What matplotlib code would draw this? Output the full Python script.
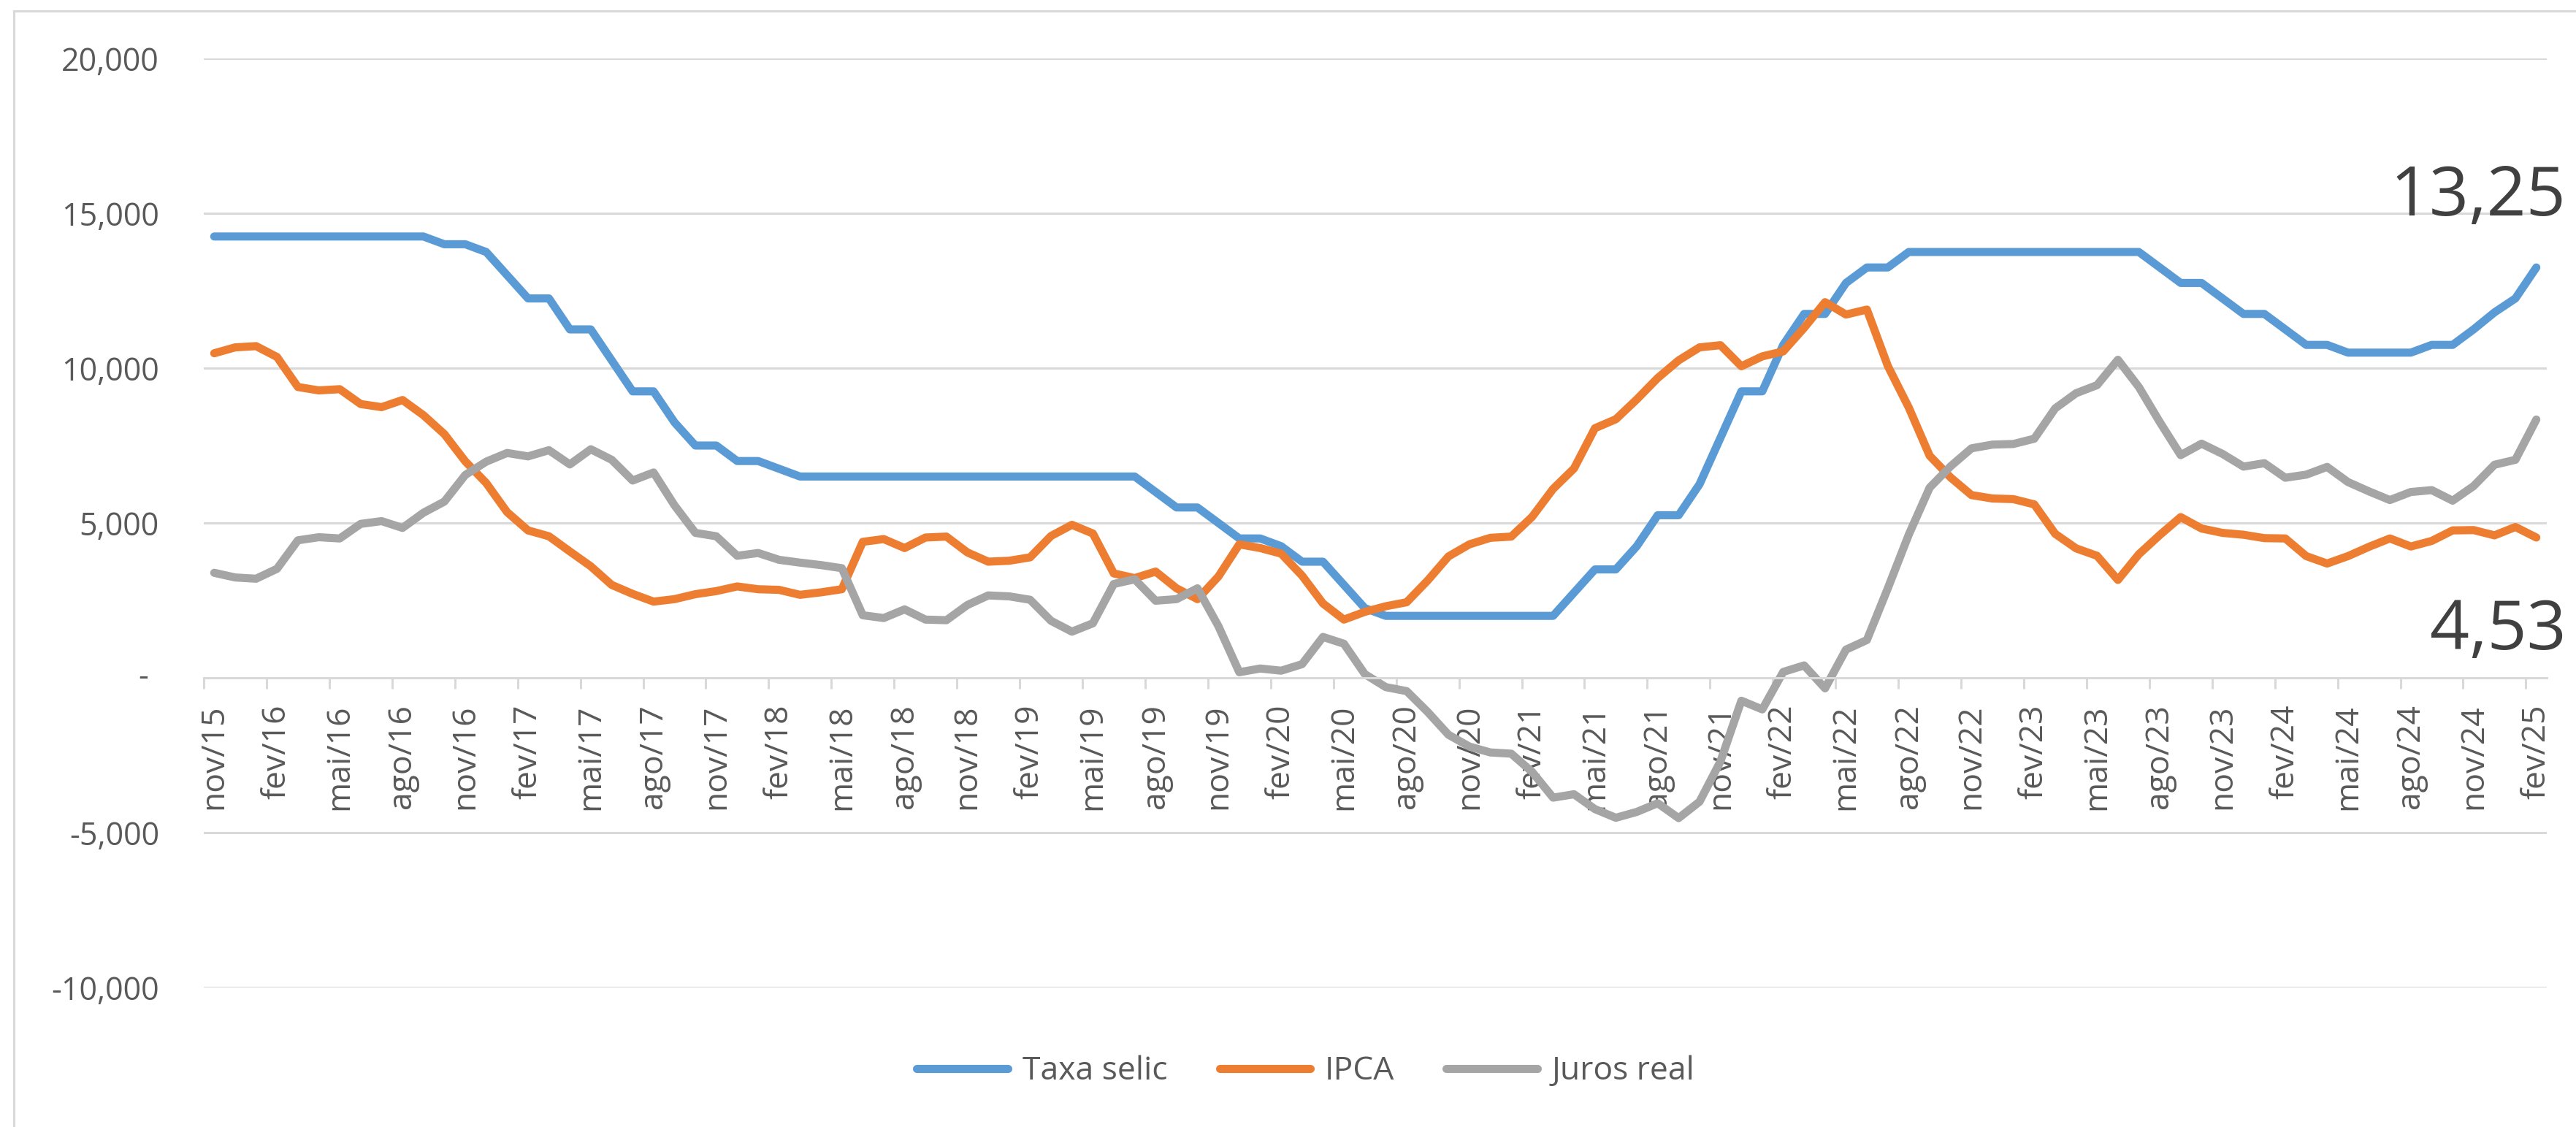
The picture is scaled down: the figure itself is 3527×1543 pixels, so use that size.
import matplotlib
matplotlib.use("Agg")
import matplotlib.pyplot as plt
from matplotlib.patches import Rectangle
import numpy as np

plt.rcParams['font.family'] = ['Open Sans', 'DejaVu Sans']

# dados mensais nov/15 .. fev/25
meses = ['jan', 'fev', 'mar', 'abr', 'mai', 'jun', 'jul', 'ago', 'set', 'out', 'nov', 'dez']
rotulos = [f"{meses[(10 + i) % 12]}/{15 + (10 + i) // 12}" for i in range(112)]

selic = [
    14.25, 14.25, 14.25, 14.25, 14.25, 14.25, 14.25, 14.25, 14.25, 14.25,
    14.25, 14.00, 14.00, 13.75, 13.00, 12.25, 12.25, 11.25, 11.25, 10.25,
    9.25, 9.25, 8.25, 7.50, 7.50, 7.00, 7.00, 6.75, 6.50, 6.50,
    6.50, 6.50, 6.50, 6.50, 6.50, 6.50, 6.50, 6.50, 6.50, 6.50,
    6.50, 6.50, 6.50, 6.50, 6.50, 6.00, 5.50, 5.50, 5.00, 4.50,
    4.50, 4.25, 3.75, 3.75, 3.00, 2.25, 2.00, 2.00, 2.00, 2.00,
    2.00, 2.00, 2.00, 2.00, 2.00, 2.75, 3.50, 3.50, 4.25, 5.25,
    5.25, 6.25, 7.75, 9.25, 9.25, 10.75, 11.75, 11.75, 12.75, 13.25,
    13.25, 13.75, 13.75, 13.75, 13.75, 13.75, 13.75, 13.75, 13.75, 13.75,
    13.75, 13.75, 13.75, 13.25, 12.75, 12.75, 12.25, 11.75, 11.75, 11.25,
    10.75, 10.75, 10.50, 10.50, 10.50, 10.50, 10.75, 10.75, 11.25, 11.80,
    12.25, 13.25,
]

ipca = [
    10.48, 10.67, 10.71, 10.36, 9.39, 9.28, 9.32, 8.84, 8.74, 8.97,
    8.48, 7.87, 6.99, 6.29, 5.35, 4.76, 4.57, 4.08, 3.60, 3.00,
    2.71, 2.46, 2.54, 2.70, 2.80, 2.95, 2.86, 2.84, 2.68, 2.76,
    2.86, 4.39, 4.48, 4.19, 4.53, 4.56, 4.05, 3.75, 3.78, 3.89,
    4.58, 4.94, 4.66, 3.37, 3.22, 3.43, 2.89, 2.54, 3.27, 4.31,
    4.19, 4.01, 3.30, 2.40, 1.88, 2.13, 2.31, 2.44, 3.14, 3.92,
    4.31, 4.52, 4.56, 5.20, 6.10, 6.76, 8.06, 8.35, 8.99, 9.68,
    10.25, 10.67, 10.74, 10.06, 10.38, 10.54, 11.30, 12.13, 11.73, 11.89,
    10.07, 8.73, 7.17, 6.47, 5.90, 5.79, 5.77, 5.60, 4.65, 4.18,
    3.94, 3.16, 3.99, 4.61, 5.19, 4.82, 4.68, 4.62, 4.51, 4.50,
    3.93, 3.69, 3.93, 4.23, 4.50, 4.24, 4.42, 4.76, 4.77, 4.60,
    4.87, 4.53,
]

juros_real = [
    3.39, 3.24, 3.20, 3.52, 4.44, 4.54, 4.50, 4.97, 5.06, 4.84,
    5.33, 5.69, 6.55, 6.98, 7.26, 7.15, 7.35, 6.89, 7.38, 7.04,
    6.37, 6.63, 5.57, 4.68, 4.57, 3.94, 4.03, 3.81, 3.72, 3.64,
    3.54, 2.02, 1.93, 2.21, 1.88, 1.86, 2.35, 2.66, 2.63, 2.52,
    1.84, 1.49, 1.76, 3.03, 3.18, 2.49, 2.54, 2.89, 1.67, 0.18,
    0.30, 0.23, 0.44, 1.32, 1.10, 0.12, -0.30, -0.43, -1.10, -1.84,
    -2.22, -2.41, -2.45, -3.04, -3.87, -3.76, -4.24, -4.52, -4.33, -4.05,
    -4.53, -4.00, -2.70, -0.74, -1.02, 0.19, 0.40, -0.34, 0.91, 1.22,
    2.89, 4.62, 6.14, 6.83, 7.41, 7.53, 7.55, 7.72, 8.70, 9.19,
    9.45, 10.27, 9.39, 8.26, 7.19, 7.56, 7.23, 6.82, 6.93, 6.46,
    6.56, 6.81, 6.32, 6.02, 5.74, 6.00, 6.06, 5.72, 6.19, 6.88,
    7.04, 8.34,
]

y_ticks = [-10, -5, 0, 5, 10, 15, 20]
y_labels = ['-10,000', '-5,000', '', '5,000', '10,000', '15,000', '20,000']

cinza_grade = '#D9D9D9'
cor_texto = '#595959'

fig = plt.figure(figsize=(35.27, 15.43), dpi=100)
ax = fig.add_axes([279 / 3527, 1 - 1352 / 1543, (3487 - 279) / 3527, (1352 - 80) / 1543])

x = np.arange(len(rotulos))
ax.plot(x, selic, color='#5B9BD5', lw=8, solid_capstyle='round', solid_joinstyle='round', label='Taxa selic')
ax.plot(x, ipca, color='#ED7D31', lw=8, solid_capstyle='round', solid_joinstyle='round', label='IPCA')
ax.plot(x, juros_real, color='#A5A5A5', lw=8, solid_capstyle='round', solid_joinstyle='round', label='Juros real')

ax.set_xlim(-0.5, len(rotulos) - 0.5)
ax.set_ylim(-10, 20)

# grade e eixos
ax.set_yticks(y_ticks)
ax.set_yticklabels(y_labels)
ax.yaxis.grid(True, color=cinza_grade, lw=2.2)
ax.set_axisbelow(True)
ax.tick_params(axis='y', length=0, pad=44, labelsize=31, labelcolor=cor_texto)
ax.text(-0.0235, 0, '-', transform=ax.get_yaxis_transform(), ha='right', va='center',
        fontsize=31, color=cor_texto)

for s in ['top', 'right', 'left']:
    ax.spines[s].set_visible(False)
ax.spines['bottom'].set_position(('data', 0))
ax.spines['bottom'].set_color(cinza_grade)
ax.spines['bottom'].set_linewidth(2.2)

ax.set_xticks(np.arange(-0.5, len(rotulos) - 1, 3))
ax.set_xticklabels([])
ax.tick_params(axis='x', which='major', length=11, width=2.2, color=cinza_grade)
ax.set_xticks(x[::3], [rotulos[i] for i in x[::3]], minor=True)
ax.tick_params(axis='x', which='minor', length=0, pad=26, labelsize=32,
               labelcolor=cor_texto, labelrotation=90)

# rotulos finais
ax.text(104.0, 14.93, '13,25', fontsize=68, color='#404040', va='baseline', ha='left')
ax.text(105.9, 0.92, '4,53', fontsize=68, color='#404040', va='baseline', ha='left')

leg = fig.legend(loc='center', bbox_to_anchor=(1788 / 3527, 1 - 1467 / 1543), ncol=3,
                 frameon=False, fontsize=32, handlelength=2.8, handletextpad=0.45,
                 columnspacing=1.6)
for t in leg.get_texts():
    t.set_color(cor_texto)

# borda do grafico
fig.patches.append(Rectangle((19 / 3527, -0.02), 1.05, 1.02 - 15 / 1543 + 0.0,
                             transform=fig.transFigure, fill=False,
                             edgecolor=cinza_grade, lw=2.2))

fig.savefig('out.png', dpi=100)
